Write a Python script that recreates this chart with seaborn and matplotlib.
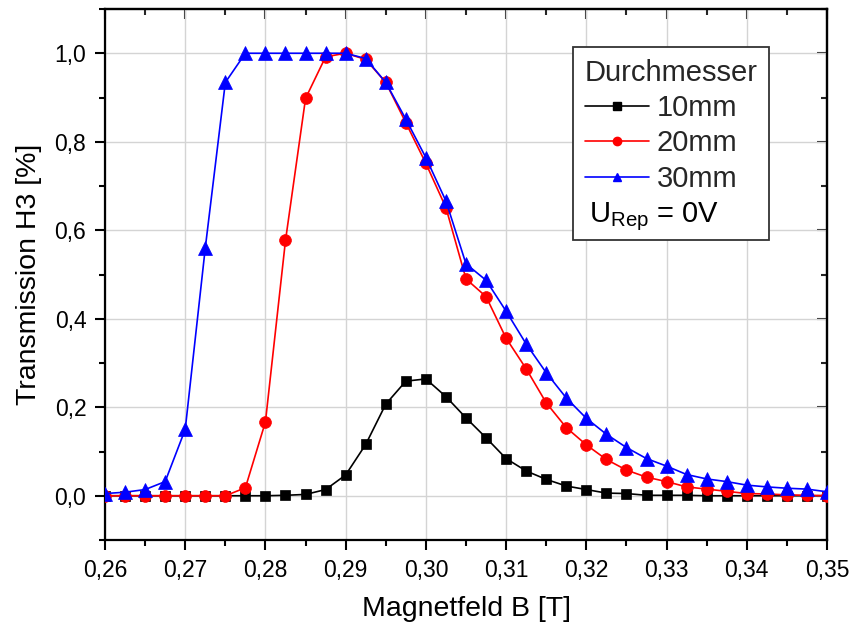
import numpy as np
import pandas as pd
import matplotlib
matplotlib.use("Agg")
import matplotlib.pyplot as plt
from matplotlib.lines import Line2D
from matplotlib.ticker import MultipleLocator, FuncFormatter
import seaborn as sns

# ---- data -------------------------------------------------------------
B = [0.26, 0.2625, 0.265, 0.2675, 0.27, 0.2725, 0.275, 0.2775, 0.28, 0.2825,
     0.285, 0.2875, 0.29, 0.2925, 0.295, 0.2975, 0.30, 0.3025, 0.305, 0.3075,
     0.31, 0.3125, 0.315, 0.3175, 0.32, 0.3225, 0.325, 0.3275, 0.33, 0.3325,
     0.335, 0.3375, 0.34, 0.3425, 0.345, 0.3475, 0.35]

d10 = [0, 0, 0, 0, 0, 0, 0, 0.0, 0.0, 0.001,
       0.003, 0.014, 0.047, 0.116, 0.207, 0.259, 0.264, 0.224, 0.176, 0.131,
       0.084, 0.056, 0.037, 0.022, 0.014, 0.006, 0.005, 0.001, 0.001, 0.001,
       0.0, 0, 0, 0, 0, 0, 0]

d20 = [0, 0, 0, 0, 0, 0, 0, 0.018, 0.167, 0.577,
       0.898, 0.992, 1.0, 0.986, 0.934, 0.843, 0.751, 0.651, 0.490, 0.450,
       0.356, 0.287, 0.210, 0.154, 0.115, 0.082, 0.058, 0.042, 0.032, 0.020,
       0.015, 0.010, 0.005, 0.004, 0.002, 0.001, 0.0]

d30 = [0.005, 0.008, 0.014, 0.032, 0.15, 0.56, 0.934, 1.0, 1.0, 1.0,
       1.0, 1.0, 1.0, 0.988, 0.934, 0.851, 0.764, 0.666, 0.524, 0.487,
       0.417, 0.343, 0.278, 0.221, 0.175, 0.139, 0.109, 0.084, 0.067, 0.048,
       0.038, 0.032, 0.024, 0.020, 0.017, 0.015, 0.009]

labels = ["10mm", "20mm", "30mm"]
colors = ["#000000", "#ff0000", "#0000ff"]
markers = ["s", "o", "^"]
msizes = [7.5, 8.5, 9.5]

x_ticks = [0.26, 0.27, 0.28, 0.29, 0.30, 0.31, 0.32, 0.33, 0.34, 0.35]
y_ticks = [0.0, 0.2, 0.4, 0.6, 0.8, 1.0]

# ---- style ------------------------------------------------------------
sns.set_theme(style="white")
plt.rcParams["font.family"] = ["Liberation Sans", "DejaVu Sans"]
plt.rcParams["mathtext.fontset"] = "custom"
plt.rcParams["mathtext.rm"] = "Liberation Sans"
plt.rcParams["mathtext.it"] = "Liberation Sans"

fig = plt.figure(figsize=(8.52, 6.28), dpi=100)
ax = fig.add_axes([105 / 852, 1 - 540 / 628, 722 / 852, 531 / 628])

df = pd.DataFrame({"B": B, "10mm": d10, "20mm": d20, "30mm": d30})
for lab, col, mk, ms in zip(labels, colors, markers, msizes):
    sns.lineplot(data=df, x="B", y=lab, ax=ax, color=col, marker=mk,
                 markersize=ms, markeredgecolor=col, markerfacecolor=col,
                 markeredgewidth=0.5, linewidth=1.2, zorder=3)

ax.set_xlim(0.26, 0.35)
ax.set_ylim(-0.1, 1.1)
ax.set_xticks(x_ticks)
ax.set_yticks(y_ticks)
ax.xaxis.set_minor_locator(MultipleLocator(0.005))
ax.yaxis.set_minor_locator(MultipleLocator(0.1))
ax.xaxis.set_major_formatter(FuncFormatter(lambda v, p: f"{v:.2f}".replace(".", ",")))
ax.yaxis.set_major_formatter(FuncFormatter(lambda v, p: f"{v:.1f}".replace(".", ",")))

ax.grid(True, which="major", color="#d4d4d4", linewidth=1.0, zorder=0)
ax.set_axisbelow(True)

for s in ax.spines.values():
    s.set_visible(True)
    s.set_color("black")
    s.set_linewidth(1.6)

ax.tick_params(axis="both", which="major", direction="out", length=7.5,
               width=1.5, color="black", labelsize=16.5, labelcolor="black", pad=6,
               bottom=True, left=True)
ax.tick_params(axis="both", which="minor", direction="out", length=4,
               width=1.5, color="black", bottom=True, left=True)

# top / right inward ticks without labels
axt = ax.secondary_xaxis("top")
axt.set_xticks(x_ticks)
axt.xaxis.set_minor_locator(MultipleLocator(0.005))
axt.tick_params(which="major", direction="in", length=7.5, width=1.5, labeltop=False)
axt.tick_params(which="minor", direction="in", length=4, width=1.5)
axt.spines["top"].set_linewidth(1.6)
axr = ax.secondary_yaxis("right")
axr.set_yticks(y_ticks)
axr.yaxis.set_minor_locator(MultipleLocator(0.1))
axr.tick_params(which="major", direction="in", length=7.5, width=1.5, labelright=False)
axr.tick_params(which="minor", direction="in", length=4, width=1.5)
axr.spines["right"].set_linewidth(1.6)

ax.set_xlabel("Magnetfeld B [T]", fontsize=20.5, color="black", labelpad=10)
ax.set_ylabel("Transmission H3 [%]", fontsize=20.5, color="black", labelpad=9)

handles = [Line2D([], [], color=c, marker=m, markersize=8, linewidth=1.2,
                  markeredgecolor=c) for c, m in zip(colors, markers)]
handles.append(Line2D([], [], linestyle="none"))
leg = ax.legend(handles, labels + [" "], title="Durchmesser",
                loc="upper left", bbox_to_anchor=(0.648, 0.928),
                borderaxespad=0.0,
                fontsize=21, title_fontsize=21, frameon=True, fancybox=False,
                edgecolor="#333333", framealpha=1, handlelength=2.2,
                handletextpad=0.28, labelspacing=0.25, borderpad=0.4,
                alignment="left", markerscale=0.75)
leg.get_frame().set_linewidth(1.3)
leg.set_zorder(5)

ax.text(0.671, 0.598, r"U$_{\mathrm{Rep}}$ = 0V", transform=ax.transAxes,
        fontsize=21, color="black", va="baseline", ha="left", zorder=6)

fig.savefig("out.png", dpi=100)
